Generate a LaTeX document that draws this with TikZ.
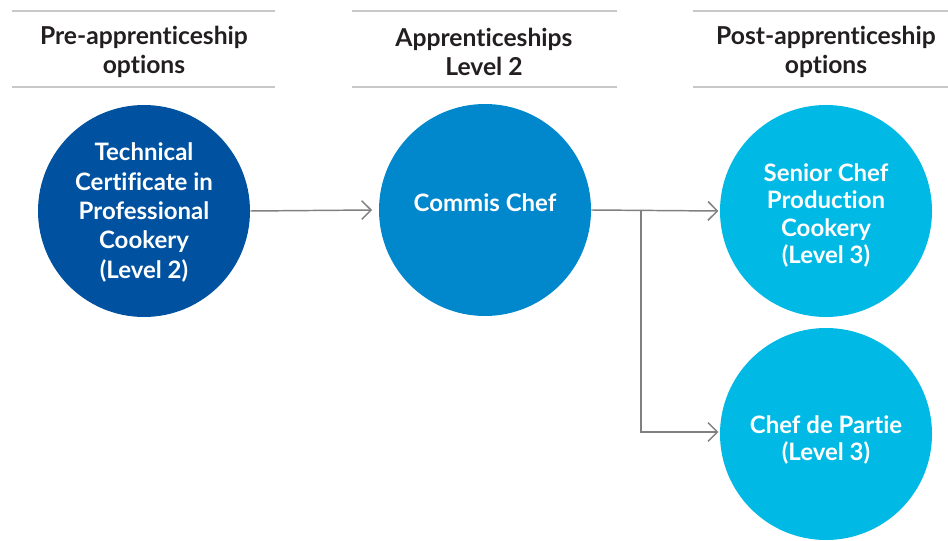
\documentclass[tikz,border=0pt]{standalone}
\usepackage{fontspec}
\setmainfont[Ligatures=NoCommon]{Lato}
\usepackage{tikz}
\usetikzlibrary{arrows.meta}
\definecolor{darkBlue}{RGB}{0,82,160}
\definecolor{midBlue}{RGB}{0,135,204}
\definecolor{lightBlue}{RGB}{0,185,228}
\definecolor{headText}{RGB}{35,31,32}
\definecolor{ruleGray}{RGB}{200,200,200}
\definecolor{arrowGray}{RGB}{128,128,128}
% move one line of a node up or down without changing its box
\newcommand{\nudge}[2]{\raisebox{#1}[0.75em][0.25em]{#2}}

\begin{document}
\begin{tikzpicture}[x=0.75pt,y=-0.75pt,
  course/.style={circle,minimum size=159pt,inner sep=0pt,text=white,align=center,
    font=\bfseries\fontsize{18}{22}\selectfont},
  heading/.style={align=center,text=headText,font=\bfseries\fontsize{18.5}{22}\selectfont},
  headrule/.style={draw=ruleGray,line width=1pt},
  route/.style={draw=arrowGray,line width=1.1pt,-{Straight Barb[length=7pt,width=14pt,line width=1.1pt]}}]
\useasboundingbox (0,0) rectangle (948,541);

\node[heading]                      (headPre)      at (144, 52) {Pre-apprenticeship\\options};
\node[heading]                      (headApp)      at (484, 52) {Apprenticeships\\Level 2};
\node[heading]                      (headPost)     at (826, 52) {Post-apprenticeship\\options};

\draw[headrule] ( 12,11) -- (275,11) ( 12,87) -- (275,87);
\draw[headrule] (352,11) -- (617,11) (352,87) -- (617,87);
\draw[headrule] (693,11) -- (948,11) (693,87) -- (948,87);

\node[course,fill=darkBlue]         (preApprent)   at (144,211) {\nudge{-2pt}{Technical}\\\nudge{-2pt}{Certificate in}\\\nudge{-2pt}{Professional}\\\nudge{-2pt}{Cookery}\\\nudge{-2pt}{(Level 2)}};
\node[course,fill=midBlue]          (commisChef)   at (485,210) {\nudge{3pt}{Commis Chef}};
\node[course,fill=lightBlue]        (seniorChef)   at (826,211) {\nudge{-4pt}{Senior Chef}\\[-1.5pt]\nudge{-4pt}{Production}\\[-1.5pt]\nudge{-4pt}{Cookery}\\[-1.5pt]\nudge{-4pt}{(Level 3)}};
\node[course,fill=lightBlue]        (chefDePartie) at (826,434) {\nudge{-5pt}{Chef de Partie}\\[-1.5pt]\nudge{-5pt}{(Level 3)}};

\coordinate (branchTop)    at (641,210);
\coordinate (branchBottom) at (641,432);

\draw[route] (preApprent.east) -- ([xshift=-5pt]commisChef.west);
\draw[route] (commisChef.east) -- ([xshift=-1pt]seniorChef.west);
\draw[route] (branchTop) -- (branchBottom) -- ([xshift=-1pt]chefDePartie.west |- branchBottom);
\end{tikzpicture}
\end{document}
